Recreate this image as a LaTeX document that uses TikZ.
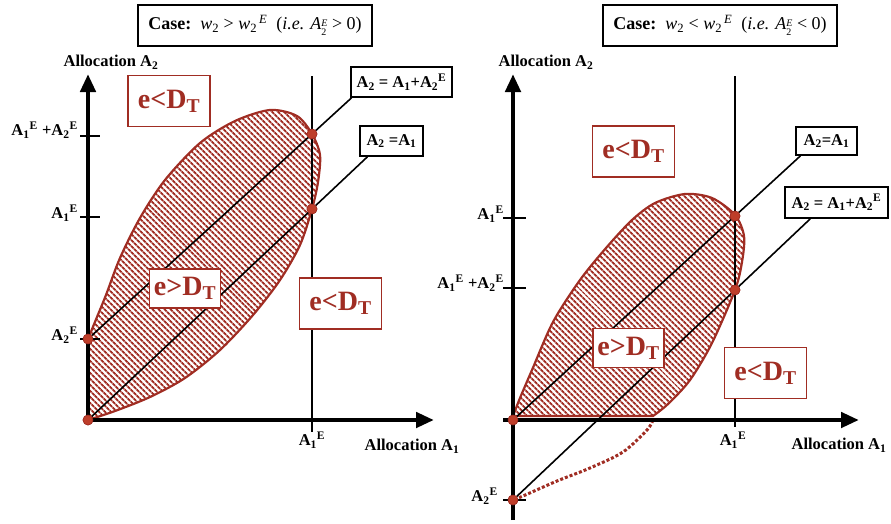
\documentclass[tikz,border=0pt]{standalone}
\usepackage{fontspec}
\setmainfont{Liberation Serif}
\usetikzlibrary{arrows.meta,patterns.meta}
\definecolor{brick}{RGB}{160,45,35}
\definecolor{hitred}{RGB}{190,62,42}
\newcommand{\Aexp}[1]{A\textsubscript{#1}\textsuperscript{E}}
\newcommand{\subsupp}[2]{\raisebox{-0.75ex}{\fontsize{10}{11.5}\selectfont\shortstack[l]{#2\\#1}}}
\begin{document}
\begin{tikzpicture}[x=1pt,y=-1pt,
  axis/.style={line width=4.5pt,-{Triangle[length=18pt,width=15pt]}},
  guide/.style={line width=1.6pt},
  notch/.style={line width=1.6pt},
  blob/.style={draw=brick,line width=2.2pt,pattern={Lines[angle=-45,distance=4pt,line width=2pt]},pattern color=brick},
  hit/.style={circle,fill=hitred,draw=brick,line width=0.6pt,inner sep=0pt,minimum size=10pt},
  zone/.style={draw=brick,line width=1.9pt,fill=white,text=brick,font=\fontsize{28}{28}\selectfont\bfseries,inner sep=0pt,minimum width=82pt,minimum height=51pt},
  inzone/.style={zone,minimum width=71pt,minimum height=39pt},
  eqbox/.style={draw,line width=1.6pt,fill=white,font=\fontsize{16.5}{16.5}\selectfont\bfseries,inner sep=0pt,minimum height=30pt},
  casebox/.style={draw,line width=1.6pt,font=\fontsize{18}{18}\selectfont,inner sep=0pt,minimum width=234pt,minimum height=41pt},
  lab/.style={font=\fontsize{16.5}{16.5}\selectfont\bfseries,inner sep=1pt}
]
\useasboundingbox (0,0) rectangle (891,523);

% ---------- linkes Bild: A2^E > 0 ----------
\coordinate (Ol) at (88,420);
\node[casebox] (casel) at (255,25.5) {\textbf{Case:}\enspace \textit{w}\textsubscript{2} > \textit{w}\textsubscript{2}\textsuperscript{\,\textit{E}}\enspace (\textit{i.e.} \textit{A}\subsupp{2}{\textit{E}} > 0)};

% zulaessiger Bereich
\draw[blob] plot[smooth] coordinates {(88,339) (97,317) (106,295) (120,258) (140,218) (165,180) (200,143) (235,121) (270,110) (297,116) (312,134) (320,155) (318,182) (312,209) (300,245) (280,280) (253,315) (220,350) (185,378) (150,397) (115,411) (88,420)} -- cycle;

\node[hit] (hitZl) at (Ol) {};
\node[hit] (hitBl) at (88,339) {};
\node[hit] (hitCl) at (312,134) {};
\node[hit] (hitDl) at (312,209) {};

\node[eqbox,minimum width=101pt] (eqSuml) at (401.5,82) {A\textsubscript{2} = A\textsubscript{1}+\Aexp{2}};
\node[eqbox,minimum width=63pt] (eqIdl) at (391.5,141) {A\textsubscript{2} =A\textsubscript{1}};

\draw[guide] (312,76) -- (312,432);
\draw[guide] (hitZl) -- (intersection of hitZl--hitDl and eqIdl.south west--eqIdl.south east);
\draw[guide] (hitBl) -- (intersection of hitBl--hitCl and eqSuml.south west--eqSuml.south east);

% Achsen
\draw[axis] (88,422) -- (88,74);
\draw[axis] (86,420) -- (434,420);
\foreach \yy in {136,217,339} \draw[notch] (80,\yy) -- (100,\yy);

\node[hit] at (Ol) {};
\node[hit] at (88,339) {};
\node[hit] at (312,134) {};
\node[hit] at (312,209) {};

\node[lab] (ylabl) at (111,62) {Allocation A\textsubscript{2}};
\node[lab] (xlabl) at (412,446) {Allocation A\textsubscript{1}};
\node[lab,anchor=east] (tSuml) at (79,130) {\Aexp{1} +\Aexp{2}};
\node[lab,anchor=east] (tA1l) at (79,213) {\Aexp{1}};
\node[lab,anchor=east] (tA2l) at (79,335) {\Aexp{2}};
\node[lab] (xA1l) at (312,440) {\Aexp{1}};

\node[zone] (outTl) at (169,101) {e<D\textsubscript{T}};
\node[inzone] (inl) at (185,288.5) {e>D\textsubscript{T}};
\node[zone] (outRl) at (340.5,303.5) {e<D\textsubscript{T}};

% ---------- rechtes Bild: A2^E < 0 ----------
\coordinate (Or) at (513,420);
\node[casebox] (caser) at (720,25.5) {\textbf{Case:}\enspace \textit{w}\textsubscript{2} < \textit{w}\textsubscript{2}\textsuperscript{\,\textit{E}}\enspace (\textit{i.e.} \textit{A}\subsupp{2}{\textit{E}} < 0)};

\draw[blob] plot[smooth] coordinates {(513,416) (520,398) (532,370) (553,322) (580,280) (606,248) (632,220) (655,203) (685,194) (712,198) (735,215) (744,236) (742,262) (735,290) (712,343) (690,380) (668,404) (653,416)} -- cycle;
\draw[brick,line width=3pt,dash pattern=on 3pt off 2pt] plot[smooth] coordinates {(653,420) (647,430) (623,452) (590,468) (557,481) (523,496) (513,500)};

\node[hit] (hitZr) at (Or) {};
\node[hit] (hitBr) at (513,500) {};
\node[hit] (hitCr) at (735,216) {};
\node[hit] (hitDr) at (735,290) {};

\node[eqbox,minimum width=61pt,minimum height=28pt] (eqIdr) at (826.5,141) {A\textsubscript{2}=A\textsubscript{1}};
\node[eqbox,minimum width=103pt,minimum height=31pt] (eqSumr) at (836.5,202.5) {A\textsubscript{2} = A\textsubscript{1}+\Aexp{2}};

\draw[guide] (735,76) -- (735,427);
\draw[guide] (hitZr) -- (intersection of hitZr--hitCr and eqIdr.south west--eqIdr.south east);
\draw[guide] (hitBr) -- (intersection of hitBr--hitDr and eqSumr.south west--eqSumr.south east);

% Achsen
\draw[axis] (513,520) -- (513,74);
\draw[axis] (503,420) -- (859,420);
\foreach \yy in {218,288,500} \draw[notch] (503,\yy) -- (526,\yy);

\node[hit] at (Or) {};
\node[hit] at (513,500) {};
\node[hit] at (735,216) {};
\node[hit] at (735,290) {};

\node[lab] (ylabr) at (546,62) {Allocation A\textsubscript{2}};
\node[lab] (xlabr) at (839,445) {Allocation A\textsubscript{1}};
\node[lab,anchor=east] (tA1r) at (505,214) {\Aexp{1}};
\node[lab,anchor=east] (tSumr) at (505,283) {\Aexp{1} +\Aexp{2}};
\node[lab,anchor=east] (tA2r) at (499,496) {\Aexp{2}};
\node[lab] (xA1r) at (733,440) {\Aexp{1}};

\node[zone] (outTr) at (633.5,151.5) {e<D\textsubscript{T}};
\node[inzone] (inr) at (628.5,348) {e>D\textsubscript{T}};
\node[zone] (outRr) at (765.5,373) {e<D\textsubscript{T}};
\end{tikzpicture}
\end{document}
